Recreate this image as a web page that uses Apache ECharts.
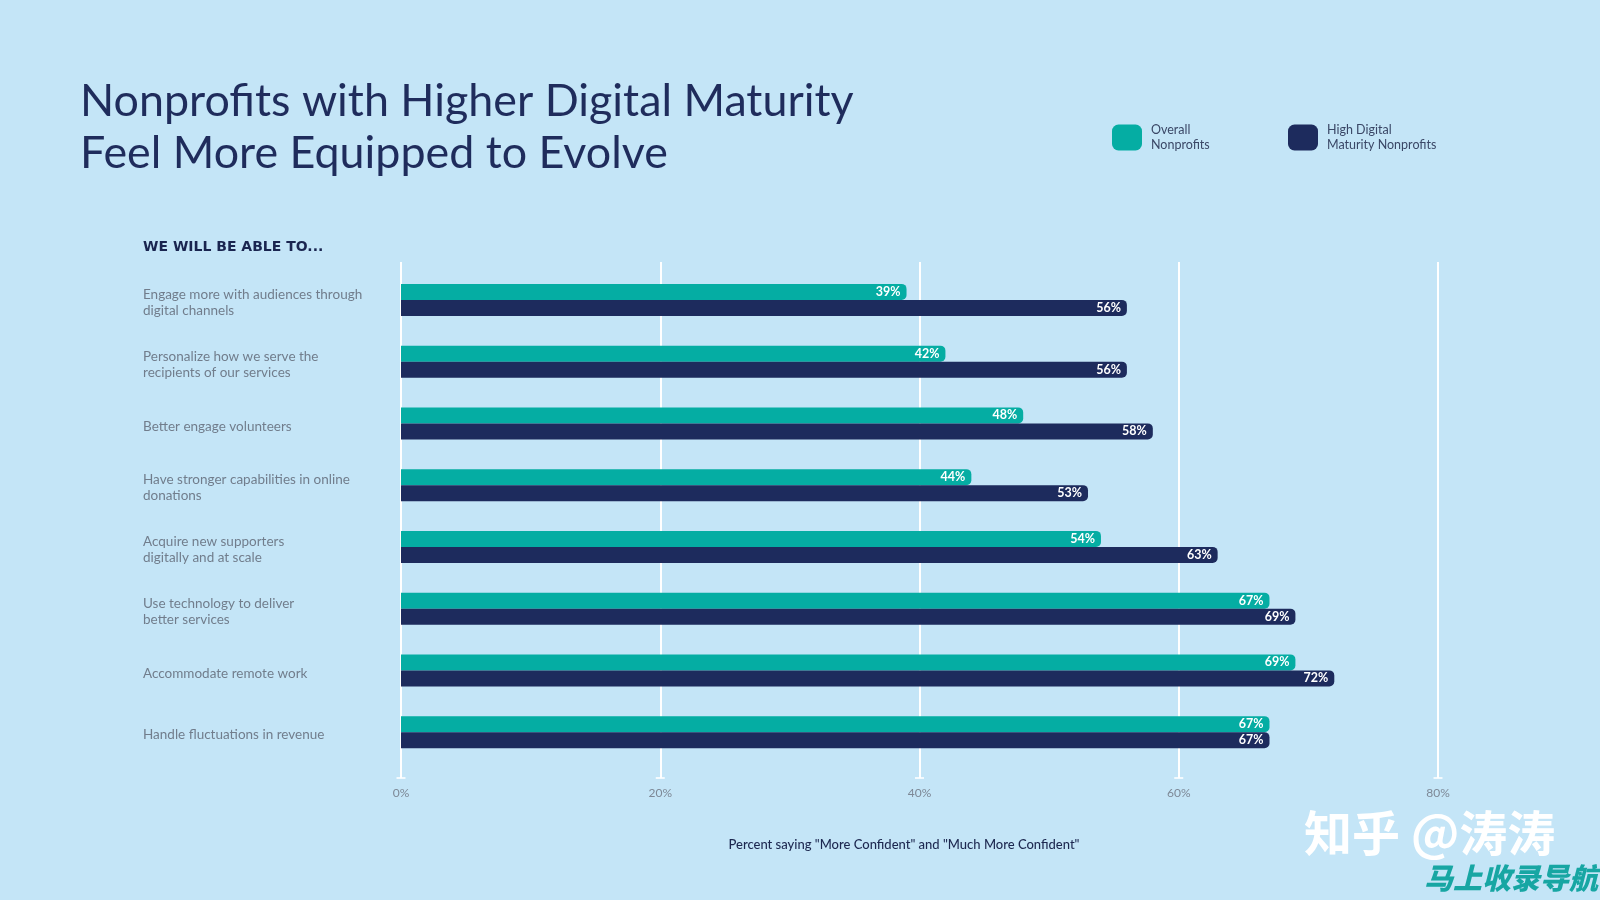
<!DOCTYPE html>
<html>
<head>
<meta charset="utf-8">
<script src="https://cdn.jsdelivr.net/npm/echarts@6/dist/echarts.min.js"></script>
<style>
html,body{margin:0;padding:0;background:#c4e5f7;}
#chart{width:1600px;height:900px;}
</style>
</head>
<body>
<div id="chart"></div>
<script>
const titleText = 'Nonprofits with Higher Digital Maturity\nFeel More Equipped to Evolve';
const sectionLabel = 'WE WILL BE ABLE TO...';
const footnote = 'Percent saying "More Confident" and "Much More Confident"';
const categories = [
  'Engage more with audiences through\ndigital channels',
  'Personalize how we serve the\nrecipients of our services',
  'Better engage volunteers',
  'Have stronger capabilities in online\ndonations',
  'Acquire new supporters\ndigitally and at scale',
  'Use technology to deliver\nbetter services',
  'Accommodate remote work',
  'Handle fluctuations in revenue'
];
const seriesNames = ['Overall\nNonprofits', 'High Digital\nMaturity Nonprofits'];
const overall = [39, 42, 48, 44, 54, 67, 69, 67];
const highDigital = [56, 56, 58, 53, 63, 69, 72, 67];
const tickValues = [0, 20, 40, 60, 80];
const axisMin = 0, axisMax = 80, axisStep = 20;

const TEAL = '#05ada3';
const NAVY = '#1d2b5d';
const chart = echarts.init(document.getElementById('chart'), null, {renderer: 'canvas'});

const valueLabel = {
  show: true, position: 'insideRight', distance: 6,
  color: '#ffffff', fontSize: 12.5, fontWeight: 'bold', fontFamily: 'Lato',
  formatter: p => p.value + '%'
};
const legendText = {fontFamily: 'Lato', fontSize: 12.5, lineHeight: 15.5, color: '#3a4766', padding: [8, 0, 0, 4]};

chart.setOption({
  backgroundColor: '#c4e5f7',
  animation: false,
  title: [
    {text: titleText, left: 80, top: 76, padding: 0,
     textStyle: {fontFamily: 'Lato', fontWeight: 'normal', fontSize: 44.8, lineHeight: 52, color: '#1f2c5c'}},
    {text: sectionLabel, left: 143, top: 240, padding: 0,
     textStyle: {fontFamily: 'DejaVu Sans', fontWeight: 'bold', fontSize: 14, color: '#1a2550'}}
  ],
  legend: [
    {data: [seriesNames[0]], left: 1112, top: 118, padding: 0, itemWidth: 30, itemHeight: 26, icon: 'roundRect', textStyle: legendText},
    {data: [seriesNames[1]], left: 1288, top: 118, padding: 0, itemWidth: 30, itemHeight: 26, icon: 'roundRect', textStyle: legendText}
  ],
  grid: [
    {left: 401, right: 162, top: 269, height: 494},
    {left: 401, right: 162, top: 262, height: 516},
    {left: 401, right: 162, top: 272, height: 494}
  ],
  xAxis: [
    {type: 'value', gridIndex: 0, min: axisMin, max: axisMax, interval: axisStep, show: false},
    {type: 'value', gridIndex: 1, min: axisMin, max: axisMax, interval: axisStep,
     axisLine: {show: false}, axisTick: {show: false},
     splitLine: {show: true, lineStyle: {color: '#ffffff', width: 2}},
     axisLabel: {formatter: '{value}%', color: '#7d8896', fontFamily: 'Lato', fontSize: 12, margin: 9}},
    {type: 'value', gridIndex: 2, min: axisMin, max: axisMax, show: false}
  ],
  yAxis: [
    {type: 'category', gridIndex: 0, data: categories, inverse: true, show: false},
    {type: 'value', gridIndex: 1, min: 0, max: 1, show: false},
    {type: 'category', gridIndex: 2, data: categories, inverse: true,
     axisLine: {show: false}, axisTick: {show: false}, splitLine: {show: false},
     axisLabel: {align: 'left', margin: 258, color: '#717d8c', fontFamily: 'Lato', fontSize: 13.5, lineHeight: 16}}
  ],
  series: [
    {name: seriesNames[0], type: 'bar', xAxisIndex: 0, yAxisIndex: 0, data: overall,
     barWidth: 16, barGap: '0%', itemStyle: {color: TEAL, borderRadius: [0, 5, 5, 0]}, label: valueLabel, z: 3},
    {name: seriesNames[1], type: 'bar', xAxisIndex: 0, yAxisIndex: 0, data: highDigital,
     barWidth: 16, barGap: '0%', itemStyle: {color: NAVY, borderRadius: [0, 5, 5, 0]}, label: valueLabel, z: 3},
    {type: 'scatter', xAxisIndex: 1, yAxisIndex: 1, data: tickValues.map(v => [v, 0]),
     symbol: 'rect', symbolSize: [9, 2], itemStyle: {color: '#ffffff'}, silent: true, z: 1}
  ],
  graphic: [
    {type: 'text', x: 904, y: 838, z: 10,
     style: {text: footnote, fill: '#1d2850', font: '500 13px Lato', textAlign: 'center'}},
    {type: 'text', left: 1304, top: 809, z: 10,
     style: {text: '知乎 @涛涛', fill: '#ffffff', font: 'bold 48px "Noto Sans CJK SC"',
             textShadowColor: 'rgba(80,90,100,0.85)', textShadowOffsetX: 3, textShadowOffsetY: 3, textShadowBlur: 0}},
    {type: 'text', left: 1424, top: 863, z: 10,
     style: {text: '马上收录导航', fill: '#17a6a3', font: 'italic 900 29px "Noto Sans CJK SC"'}}
  ]
});
</script>
</body>
</html>
